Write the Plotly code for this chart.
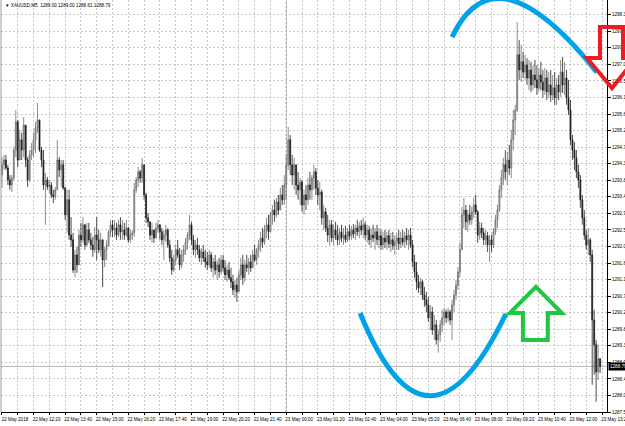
import plotly.graph_objects as go

# ---- data: XAUUSD M5 candles ----
opens = [
1293.99,1294.27,1294.40,1294.18,1293.86,1293.72,1293.91,1294.67,1295.44,1294.40,
1294.95,1294.67,1295.35,1294.40,1293.86,1294.54,1294.67,1294.95,1295.27,1295.49,
1294.67,1294.40,1293.72,1293.86,1293.67,1293.72,1293.45,1293.40,1293.59,1294.40,
1294.13,1294.27,1293.64,1292.91,1293.32,1292.36,1292.23,1291.41,1291.82,1291.55,
1292.36,1292.23,1292.64,1292.09,1292.50,1292.23,1292.09,1291.96,1292.36,1292.23,
1291.96,1292.23,1291.68,1291.96,1292.09,1292.45,1292.64,1292.50,1292.55,1292.36,
1292.64,1292.45,1292.50,1292.36,1292.55,1292.23,1292.36,1292.42,1293.59,1293.86,
1294.08,1293.91,1294.27,1293.45,1292.83,1292.72,1292.36,1292.50,1292.28,1292.55,
1292.64,1292.45,1292.23,1292.36,1292.50,1292.09,1291.74,1291.41,1291.68,1291.96,
1291.82,1291.55,1291.82,1291.96,1292.17,1292.36,1292.64,1292.23,1291.96,1292.09,
1291.96,1291.74,1291.90,1291.74,1291.63,1291.55,1291.82,1291.47,1291.63,1291.41,
1291.55,1291.36,1291.68,1291.47,1291.28,1291.41,1291.20,1291.09,1290.87,1291.00,
1290.82,1291.28,1291.55,1291.20,1291.55,1291.47,1291.63,1291.47,1291.82,1291.68,
1291.96,1292.09,1292.28,1292.17,1292.50,1292.64,1292.45,1292.91,1293.04,1292.91,
1293.26,1293.04,1293.45,1293.32,1293.72,1294.27,1294.95,1294.27,1293.99,1294.27,
1293.72,1293.59,1293.80,1293.18,1293.45,1293.32,1293.72,1293.59,1293.91,1294.08,
1293.64,1293.45,1293.53,1292.83,1292.99,1292.55,1292.36,1292.64,1292.28,1292.50,
1292.36,1292.23,1292.45,1292.28,1292.36,1292.23,1292.45,1292.34,1292.50,1292.39,
1292.55,1292.45,1292.61,1292.50,1292.64,1292.36,1292.50,1292.23,1292.36,1292.28,
1292.45,1292.23,1292.34,1292.09,1292.28,1292.17,1292.34,1292.12,1292.23,1292.07,
1292.17,1292.28,1292.12,1292.28,1292.17,1292.34,1292.23,1292.36,1292.09,1291.63,
1291.36,1291.09,1290.92,1291.09,1290.73,1290.60,1290.46,1290.11,1290.27,1289.78,
1289.92,1289.51,1289.65,1289.92,1290.11,1290.27,1290.11,1290.27,1290.05,1290.46,
1290.73,1291.00,1291.36,1291.96,1292.91,1293.04,1292.72,1292.91,1292.77,1292.99,
1293.18,1292.99,1292.36,1292.55,1292.42,1292.23,1292.34,1292.09,1292.23,1292.09,
1292.45,1292.77,1293.04,1293.59,1293.91,1294.27,1294.08,1294.40,1294.18,1294.95,
1295.49,1295.76,1297.26,1296.85,1297.07,1296.79,1296.98,1296.63,1296.85,1296.44,
1296.71,1296.58,1296.36,1296.71,1296.52,1296.30,1296.63,1296.25,1296.44,1296.17,
1296.36,1296.09,1296.44,1296.25,1296.79,1296.44,1296.63,1296.09,1295.76,1294.95,
1294.67,1294.46,1294.08,1293.86,1293.32,1292.83,1292.36,1292.09,1292.23,1291.82,
1290.05,1289.38,1288.64,1289.00]

highs = [
1294.48,1294.54,1294.54,1294.27,1293.99,1293.99,1294.76,1295.76,1295.49,1295.22,
1295.14,1295.57,1295.35,1294.48,1294.67,1294.86,1295.14,1295.44,1295.95,1295.49,
1294.76,1294.67,1294.05,1293.94,1293.86,1293.80,1293.59,1293.67,1294.95,1294.48,
1294.40,1294.40,1293.67,1293.59,1293.59,1292.85,1292.42,1291.96,1292.04,1292.50,
1292.69,1292.85,1292.64,1292.69,1292.69,1292.42,1292.31,1292.58,1292.85,1292.50,
1292.42,1292.23,1292.04,1292.23,1292.50,1292.77,1292.77,1292.77,1292.69,1292.77,
1292.85,1292.77,1292.69,1292.77,1292.58,1292.50,1292.50,1293.78,1293.94,1294.21,
1294.13,1294.46,1294.27,1293.51,1292.96,1292.72,1292.69,1292.50,1292.69,1292.77,
1292.64,1292.55,1292.50,1292.64,1292.55,1292.23,1291.96,1291.82,1292.09,1292.23,
1292.01,1291.96,1292.09,1292.28,1292.45,1292.91,1292.72,1292.36,1292.23,1292.28,
1292.09,1292.01,1292.09,1291.96,1291.90,1291.96,1291.90,1291.74,1291.82,1291.68,
1291.74,1291.82,1291.82,1291.68,1291.55,1291.63,1291.47,1291.28,1291.14,1291.20,
1291.41,1291.74,1291.82,1291.68,1291.82,1291.74,1291.82,1291.96,1292.09,1292.01,
1292.23,1292.45,1292.55,1292.64,1292.83,1292.91,1292.99,1293.18,1293.32,1293.37,
1293.45,1293.64,1293.72,1293.99,1294.54,1295.30,1295.08,1294.54,1294.46,1294.27,
1294.08,1293.91,1293.86,1293.59,1293.72,1293.91,1294.08,1293.99,1294.27,1294.18,
1293.86,1293.80,1293.59,1293.18,1293.10,1292.91,1292.77,1292.77,1292.64,1292.72,
1292.64,1292.55,1292.64,1292.55,1292.61,1292.55,1292.64,1292.61,1292.66,1292.64,
1292.77,1292.72,1292.77,1292.83,1292.72,1292.64,1292.61,1292.55,1292.64,1292.55,
1292.64,1292.55,1292.50,1292.45,1292.50,1292.45,1292.50,1292.42,1292.45,1292.36,
1292.42,1292.50,1292.45,1292.50,1292.45,1292.55,1292.50,1292.55,1292.23,1291.82,
1291.63,1291.28,1291.20,1291.14,1290.95,1290.82,1290.68,1290.46,1290.41,1290.19,
1290.05,1289.78,1290.05,1290.33,1290.38,1290.33,1290.38,1290.33,1290.60,1290.87,
1291.14,1291.49,1292.15,1293.13,1293.37,1293.18,1293.04,1293.18,1293.13,1293.37,
1293.45,1293.04,1292.72,1292.69,1292.55,1292.50,1292.45,1292.36,1292.36,1292.55,
1292.91,1293.18,1293.72,1294.13,1294.46,1294.67,1294.62,1294.81,1295.22,1295.76,
1295.90,1298.15,1297.66,1297.53,1297.34,1297.26,1297.17,1297.12,1297.07,1296.98,
1297.12,1296.98,1296.90,1297.07,1296.85,1296.90,1296.85,1296.79,1296.85,1296.71,
1296.79,1296.63,1296.71,1297.12,1297.20,1297.07,1296.85,1296.58,1296.03,1295.08,
1294.89,1294.67,1294.27,1293.99,1293.45,1293.04,1292.50,1292.55,1292.28,1291.96,
1290.33,1289.51,1289.38,1289.00]

lows = [
1293.64,1294.13,1294.13,1293.72,1293.59,1293.53,1293.86,1294.48,1294.21,1294.40,
1294.40,1294.48,1294.21,1293.67,1293.80,1294.40,1294.48,1294.59,1295.14,1294.62,
1294.21,1293.59,1292.64,1293.59,1293.51,1293.37,1293.23,1293.32,1293.59,1293.94,
1293.67,1293.59,1292.77,1292.42,1292.23,1292.04,1291.33,1291.22,1291.33,1291.55,
1292.04,1292.15,1291.96,1292.04,1292.15,1291.96,1291.77,1291.87,1291.68,1291.87,
1291.77,1290.95,1291.49,1291.68,1292.04,1292.31,1292.31,1292.31,1292.23,1292.31,
1292.23,1292.23,1292.23,1292.31,1292.15,1292.15,1292.23,1292.31,1293.51,1293.67,
1293.78,1293.78,1293.32,1292.69,1292.58,1292.23,1292.15,1292.15,1292.28,1292.42,
1292.23,1292.09,1291.68,1292.17,1292.01,1291.63,1291.28,1291.36,1291.55,1291.74,
1291.41,1291.47,1291.63,1291.82,1291.96,1292.23,1292.09,1291.82,1291.74,1291.82,
1291.63,1291.55,1291.63,1291.47,1291.41,1291.47,1291.36,1291.20,1291.28,1291.14,
1291.20,1291.28,1291.36,1291.14,1291.09,1291.14,1290.92,1290.73,1290.65,1290.54,
1290.82,1291.14,1291.00,1291.09,1291.36,1291.28,1291.36,1291.47,1291.63,1291.55,
1291.74,1291.90,1292.01,1292.09,1292.28,1292.23,1292.45,1292.64,1292.72,1292.83,
1292.91,1293.04,1293.18,1293.18,1293.32,1294.13,1293.99,1293.72,1293.59,1293.45,
1293.32,1293.18,1292.99,1292.91,1293.04,1293.18,1293.32,1293.32,1293.59,1293.45,
1293.18,1293.04,1292.64,1292.50,1292.45,1292.17,1292.09,1292.17,1292.09,1292.23,
1292.09,1292.09,1292.17,1292.09,1292.15,1292.17,1292.23,1292.23,1292.28,1292.23,
1292.34,1292.28,1292.36,1292.28,1292.23,1292.15,1292.09,1292.01,1292.17,1291.96,
1292.09,1292.01,1291.96,1291.96,1292.01,1291.96,1292.01,1291.90,1291.96,1291.82,
1291.96,1291.96,1292.01,1292.07,1292.01,1292.09,1291.96,1292.01,1291.49,1291.20,
1290.87,1290.79,1290.73,1290.60,1290.41,1290.27,1290.00,1289.78,1289.65,1289.51,
1289.38,1289.16,1289.46,1289.73,1289.92,1289.97,1290.00,1289.92,1289.51,1290.27,
1290.60,1290.87,1291.22,1291.96,1292.55,1292.50,1292.45,1292.64,1292.64,1292.83,
1292.91,1292.15,1292.23,1292.28,1292.09,1292.09,1291.90,1291.63,1291.90,1292.01,
1292.36,1292.55,1292.99,1293.37,1293.72,1293.86,1293.72,1293.99,1293.91,1294.67,
1295.08,1295.71,1296.58,1296.52,1296.63,1296.58,1296.44,1296.30,1296.25,1296.30,
1296.36,1296.17,1296.25,1296.30,1296.09,1296.17,1296.03,1296.09,1295.98,1296.03,
1295.90,1295.90,1296.03,1296.11,1296.22,1296.17,1295.90,1295.63,1294.81,1294.40,
1294.13,1293.91,1293.64,1293.10,1292.64,1292.23,1291.96,1291.82,1291.63,1288.29,
1288.56,1287.83,1288.42,1288.61]

closes = [
1294.27,1294.40,1294.18,1293.86,1293.72,1293.91,1294.67,1295.44,1294.40,1294.95,
1294.67,1295.35,1294.40,1293.86,1294.54,1294.67,1294.95,1295.27,1295.49,1294.67,
1294.40,1293.72,1293.86,1293.67,1293.72,1293.45,1293.40,1293.59,1294.40,1294.13,
1294.27,1293.64,1292.91,1293.32,1292.36,1292.23,1291.41,1291.82,1291.55,1292.36,
1292.23,1292.64,1292.09,1292.50,1292.23,1292.09,1291.96,1292.36,1292.23,1291.96,
1292.23,1291.68,1291.96,1292.09,1292.45,1292.64,1292.50,1292.55,1292.36,1292.64,
1292.45,1292.50,1292.36,1292.55,1292.23,1292.36,1292.42,1293.59,1293.86,1294.08,
1293.91,1294.27,1293.45,1292.83,1292.72,1292.36,1292.50,1292.28,1292.55,1292.64,
1292.45,1292.23,1292.36,1292.50,1292.09,1291.74,1291.41,1291.68,1291.96,1291.82,
1291.55,1291.82,1291.96,1292.17,1292.36,1292.64,1292.23,1291.96,1292.09,1291.96,
1291.74,1291.90,1291.74,1291.63,1291.55,1291.82,1291.47,1291.63,1291.41,1291.55,
1291.36,1291.68,1291.47,1291.28,1291.41,1291.20,1291.09,1290.87,1291.00,1290.82,
1291.28,1291.55,1291.20,1291.55,1291.47,1291.63,1291.47,1291.82,1291.68,1291.96,
1292.09,1292.28,1292.17,1292.50,1292.64,1292.45,1292.91,1293.04,1292.91,1293.26,
1293.04,1293.45,1293.32,1293.72,1294.27,1294.95,1294.27,1293.99,1294.27,1293.72,
1293.59,1293.80,1293.18,1293.45,1293.32,1293.72,1293.59,1293.91,1294.08,1293.64,
1293.45,1293.53,1292.83,1292.99,1292.55,1292.36,1292.64,1292.28,1292.50,1292.36,
1292.23,1292.45,1292.28,1292.36,1292.23,1292.45,1292.34,1292.50,1292.39,1292.55,
1292.45,1292.61,1292.50,1292.64,1292.36,1292.50,1292.23,1292.36,1292.28,1292.45,
1292.23,1292.34,1292.09,1292.28,1292.17,1292.34,1292.12,1292.23,1292.07,1292.17,
1292.28,1292.12,1292.28,1292.17,1292.34,1292.23,1292.36,1292.09,1291.63,1291.36,
1291.09,1290.92,1291.09,1290.73,1290.60,1290.46,1290.11,1290.27,1289.78,1289.92,
1289.51,1289.65,1289.92,1290.11,1290.27,1290.11,1290.27,1290.05,1290.46,1290.73,
1291.00,1291.36,1291.96,1292.91,1293.04,1292.72,1292.91,1292.77,1292.99,1293.18,
1292.99,1292.36,1292.55,1292.42,1292.23,1292.34,1292.09,1292.23,1292.09,1292.45,
1292.77,1293.04,1293.59,1293.91,1294.27,1294.08,1294.40,1294.18,1294.95,1295.49,
1295.76,1297.26,1296.85,1297.07,1296.79,1296.98,1296.63,1296.85,1296.44,1296.71,
1296.58,1296.36,1296.71,1296.52,1296.30,1296.63,1296.25,1296.44,1296.17,1296.36,
1296.09,1296.44,1296.25,1296.79,1296.44,1296.63,1296.09,1295.76,1294.95,1294.67,
1294.46,1294.08,1293.86,1293.32,1292.83,1292.36,1292.09,1292.23,1291.82,1290.05,
1289.38,1288.64,1289.00,1288.79]

time_labels = [
    "22 May 2018", "22 May 12:20", "22 May 13:40", "22 May 15:00", "22 May 16:20",
    "22 May 17:40", "22 May 19:00", "22 May 20:20", "22 May 21:40", "23 May 00:00",
    "23 May 01:20", "23 May 02:40", "23 May 04:00", "23 May 05:20", "23 May 06:40",
    "23 May 08:00", "23 May 09:20", "23 May 10:40", "23 May 12:00", "23 May 13:20",
]
label_every = 16   # bars between time labels
grid_every = 8     # bars between vertical grid lines
symbol = "XAUUSD,M5"

n = len(closes)
bars = list(range(n))

tickvals, ticktext = [], []
for k in range(0, label_every * len(time_labels), grid_every):
    tickvals.append(k)
    ticktext.append(time_labels[k // label_every] if k % label_every == 0 else "")
sep_bar = time_labels.index("23 May 00:00") * label_every

FONT = "Liberation Sans, Arial, sans-serif"
FS = 4.6

fig = go.Figure()
fig.add_trace(go.Candlestick(
    x=bars, open=opens, high=highs, low=lows, close=closes,
    increasing=dict(line=dict(color="#6e6e6e", width=0.8), fillcolor="#b4b4b4"),
    decreasing=dict(line=dict(color="#1e1e1e", width=0.8), fillcolor="#1e1e1e"),
    whiskerwidth=0, hoverinfo="skip", showlegend=False,
))

BLUE = "rgb(0,162,232)"
GREEN = "rgb(30,200,60)"
RED = "rgb(236,28,36)"

shapes = [
    # period separator
    dict(type="line", xref="x", yref="paper", x0=sep_bar, x1=sep_bar, y0=0, y1=1,
         line=dict(color="#8c8c8c", width=1, dash="2px,2px"), layer="below"),
    # bid line
    dict(type="line", xref="paper", yref="y", x0=0, x1=1, y0=closes[-1], y1=closes[-1],
         line=dict(color="#b8b8b8", width=1), layer="below"),
    # left frame
    dict(type="line", xref="paper", yref="paper", x0=0, x1=0, y0=0, y1=1,
         line=dict(color="#9a9a9a", width=1)),
    # blue arcs
    dict(type="path", xref="x", yref="y",
         path="M 228.0,1297.74 Q 250.0,1300.24 301.3,1296.79",
         line=dict(color=BLUE, width=5)),
    dict(type="path", xref="x", yref="y",
         path="M 181.4,1290.24 Q 215.3,1285.75 255.3,1290.22",
         line=dict(color=BLUE, width=5)),
    # green up arrow
    dict(type="path", xref="x", yref="y",
         path="M 270.5,1290.95 L 283.6,1290.24 L 276.5,1290.24 L 276.5,1289.51 "
              "L 263.9,1289.51 L 263.9,1290.24 L 257.3,1290.24 Z",
         line=dict(color=GREEN, width=4)),
    # red down arrow (runs over the price scale)
    dict(type="path", xref="paper", yref="paper",
         path="M 0.9884,0.9345 L 1.0264,0.9345 L 1.0264,0.8592 L 1.0479,0.8592 "
              "L 1.0083,0.7864 L 0.9670,0.8592 L 0.9884,0.8592 Z",
         line=dict(color=RED, width=4)),
]

annotations = [
    dict(xref="paper", yref="paper", x=0, y=1, xanchor="left", yanchor="top",
         xshift=2, yshift=-1, showarrow=False,
         text=f"▼ {symbol}  {opens[-1]:.2f} {highs[-1]:.2f} {lows[-1]:.2f} {closes[-1]:.2f}",
         font=dict(family=FONT, size=FS, color="black")),
    dict(xref="paper", yref="y", x=1, y=closes[-1], xanchor="left", yanchor="middle",
         xshift=1, showarrow=False, text=f"{closes[-1]:.2f}", bgcolor="black",
         borderpad=1, font=dict(family=FONT, size=FS, color="white")),
]

fig.update_layout(
    width=625, height=426,
    margin=dict(l=1, r=18, t=0, b=14, autoexpand=False),
    paper_bgcolor="white", plot_bgcolor="white",
    showlegend=False,
    shapes=shapes, annotations=annotations,
    xaxis=dict(
        range=[-0.5, 306.5], rangeslider=dict(visible=False),
        tickmode="array", tickvals=tickvals, ticktext=ticktext,
        tickfont=dict(family=FONT, size=FS, color="black"),
        tickangle=0, ticklabelshift=13, ticklabeloverflow="allow",
        automargin=False,
        showgrid=True, gridcolor="#c8c8c8", gridwidth=1, griddash="2px,2px",
        showline=True, linecolor="black", linewidth=1,
        ticks="outside", ticklen=2, tickcolor="black", zeroline=False,
    ),
    yaxis=dict(
        side="right", range=[1287.55, 1298.75],
        tick0=1287.55, dtick=0.45, tickformat=".2f",
        tickfont=dict(family=FONT, size=FS, color="black"),
        ticklabeloverflow="allow", automargin=False,
        showgrid=True, gridcolor="#c8c8c8", gridwidth=1, griddash="2px,2px",
        showline=True, linecolor="black", linewidth=1,
        ticks="outside", ticklen=3, tickcolor="black", zeroline=False,
    ),
)

fig.write_html(
    "out.html",
    config={"displayModeBar": False},
    post_script="document.body.style.margin='0';document.body.style.overflow='hidden';",
)
